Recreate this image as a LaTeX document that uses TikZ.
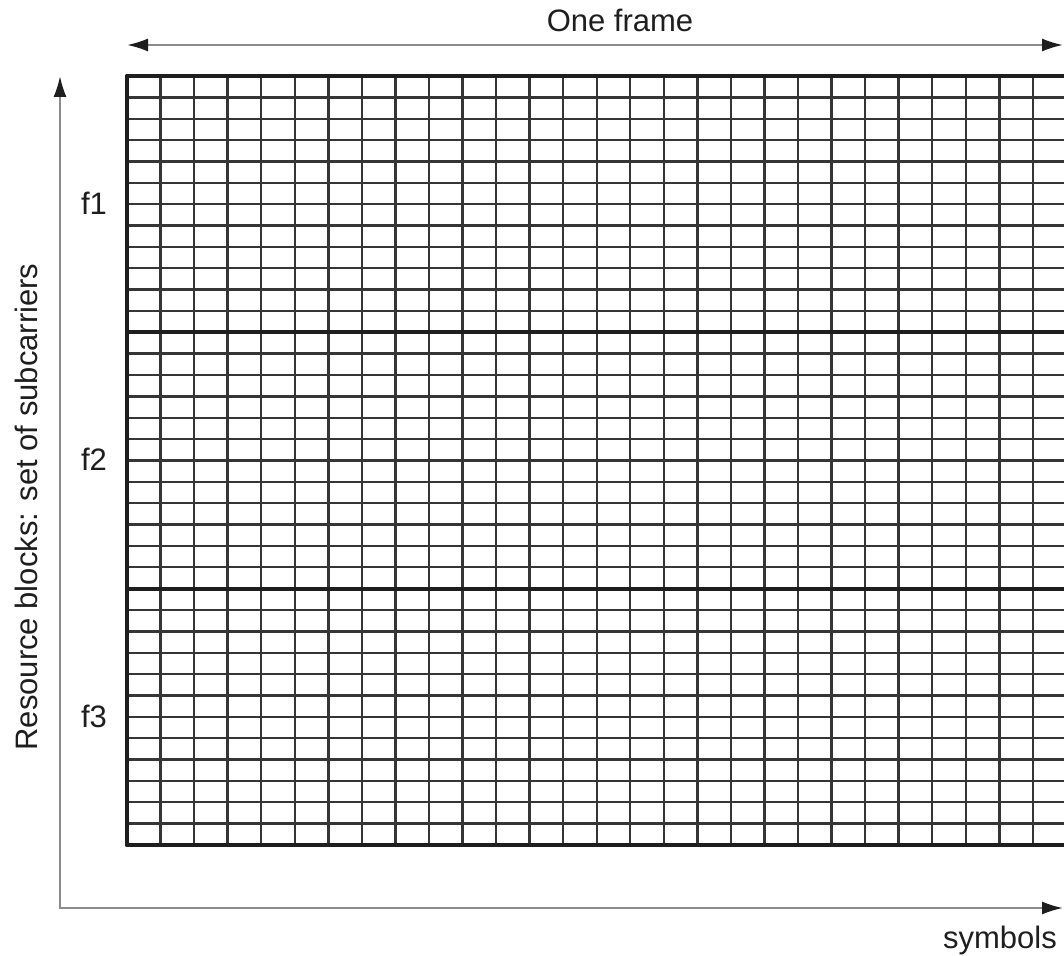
\documentclass[tikz,border=0pt]{standalone}
\usepackage{fontspec}
\setmainfont{Liberation Sans}
\usetikzlibrary{arrows.meta, positioning}
\definecolor{ink}{HTML}{1E1E1E}
\definecolor{wgrey}{HTML}{8C8C8C}
\tikzset{el/.style={line cap=round, line join=round},
  cellline/.style={ink!90, line width=1.2pt},
  blockline/.style={ink, line width=2pt},
  axisline/.style={wgrey, line width=1pt, -{Latex[length=10.5pt, width=6.5pt, color=ink]}},
  lbl/.style={text=ink, font=\fontsize{15.5}{18}\selectfont, inner sep=0pt}}

\begin{document}
\begin{tikzpicture}[el, x=0.5pt, y=-0.5pt]
  \useasboundingbox (0,0) rectangle (1064,956);
  % resource grid: 28 symbols x 36 subcarriers
  \foreach \k in {1,...,27}
     \draw[cellline] (127+\k*33.55,76)--(127+\k*33.55,845);
  \foreach \r in {1,...,35}
     \draw[cellline] (127,76+\r*21.36)--(1064,76+\r*21.36);
  \foreach \r in {0,12,24,36}
     \draw[blockline] (127,76+\r*21.36)--(1064,76+\r*21.36);
  \draw[blockline] (127,76)--(127,845);
  % axes
  \coordinate (origin) at (60,908);
  \coordinate (ytop) at (60,76);
  \coordinate (xend) at (1063,908);
  \draw[axisline] (origin)--(ytop);
  \draw[axisline] (origin)--(xend);
  % frame length
  \coordinate (frameL) at (127,45);
  \coordinate (frameR) at (1063,45);
  \draw[axisline, {Latex[length=10.5pt, width=6.5pt, color=ink]}-{Latex[length=10.5pt, width=6.5pt, color=ink]}] (frameL)--(frameR);
  % labels
  \node[lbl, anchor=base] (frame) at (620,32) {One frame};
  \node[lbl, anchor=base] (sym) at (1000,948) {symbols};
  \node[lbl, anchor=base, rotate=90] (rb) at (37,507) {Resource blocks: set of subcarriers};
  \foreach \i/\yy in {1/215, 2/471, 3/727}
     \node[lbl, anchor=base] (f\i) at (94,\yy) {f\i};
\end{tikzpicture}
\end{document}
